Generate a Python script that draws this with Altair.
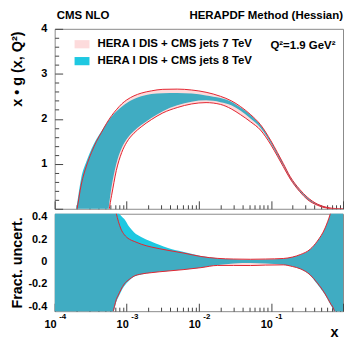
import altair as alt
import pandas as pd
import numpy as np

# ---------------- data ----------------
label7 = "HERA I DIS + CMS jets 7 TeV"
label8 = "HERA I DIS + CMS jets 8 TeV"
txt_left = "CMS NLO"
txt_right = "HERAPDF Method (Hessian)"
txt_q2 = "Q²=1.9 GeV²"

# top panel: x*g(x,Q2) bands, x given as log10(x)
logx_top = [-4.0, -3.80, -3.70, -3.63, -3.56, -3.49, -3.42, -3.35, -3.28, -3.21, -3.145,
            -3.07, -3.0, -2.90, -2.80, -2.66, -2.5, -2.3, -2.1, -1.9, -1.7, -1.55,
            -1.42, -1.28, -1.145, -1.0, -0.91, -0.83, -0.731, -0.6, -0.497, -0.35,
            -0.221, -0.1, 0.0]
g8_up = [-2.0, -0.8, 0.0, 0.7, 1.05, 1.33, 1.55, 1.73, 1.9, 2.05, 2.16,
         2.27, 2.35, 2.44, 2.5, 2.55, 2.57, 2.575, 2.56, 2.52, 2.46, 2.38,
         2.25, 2.08, 1.86, 1.5, 1.24, 1.0, 0.70, 0.42, 0.25, 0.1,
         0.03, 0.005, 0.0]
g8_lo = [-4.0, -2.8, -2.2, -1.8, -1.4, -1.05, -0.7, -0.4, -0.25, 0.5, 1.0,
         1.35, 1.55, 1.73, 1.86, 2.02, 2.17, 2.3, 2.38, 2.41, 2.37, 2.3,
         2.18, 2.0, 1.8, 1.45, 1.19, 0.96, 0.67, 0.39, 0.22, 0.08,
         0.015, -0.005, -0.01]
g7_up = [-2.0, -0.85, -0.1, 0.55, 0.95, 1.25, 1.5, 1.7, 1.9, 2.07, 2.2,
         2.33, 2.42, 2.51, 2.57, 2.62, 2.655, 2.66, 2.64, 2.59, 2.5, 2.4,
         2.27, 2.09, 1.87, 1.51, 1.25, 1.01, 0.71, 0.43, 0.26, 0.1,
         0.03, 0.005, 0.0]
g7_lo = [-4.0, -2.9, -2.3, -1.9, -1.5, -1.15, -0.8, -0.5, -0.3, 0.3, 0.85,
         1.25, 1.48, 1.68, 1.82, 1.98, 2.13, 2.25, 2.33, 2.36, 2.32, 2.22,
         2.09, 1.93, 1.75, 1.42, 1.17, 0.94, 0.66, 0.38, 0.21, 0.075,
         0.012, -0.008, -0.015]

# bottom panel: fractional uncertainties
logx_frac = [-4.0, -3.5, -3.25, -3.2, -3.17, -3.145, -3.117, -3.08, -3.034, -2.966, -2.897,
             -2.80, -2.662, -2.55, -2.428, -2.207, -1.972, -1.738, -1.517, -1.283, -1.076,
             -0.828, -0.70, -0.593, -0.455, -0.359, -0.248, -0.179, -0.12, -0.06, 0.0]
f8_up = [1.5, 1.2, 0.8, 0.65, 0.55, 0.49, 0.44, 0.41, 0.38, 0.31, 0.26,
         0.22, 0.18, 0.15, 0.12, 0.085, 0.05, 0.03, 0.02, 0.015, 0.018,
         0.025, 0.04, 0.06, 0.11, 0.18, 0.30, 0.42, 0.55, 0.8, 1.1]
f8_lo = [-1.5, -1.2, -0.65, -0.5, -0.42, -0.36, -0.32, -0.27, -0.22, -0.17, -0.135,
         -0.115, -0.1, -0.092, -0.085, -0.072, -0.055, -0.032, -0.018, -0.014, -0.018,
         -0.028, -0.045, -0.068, -0.125, -0.2, -0.3, -0.38, -0.46, -0.65, -1.0]
f7_up = [1.5, 1.2, 0.75, 0.6, 0.5, 0.43, 0.36, 0.29, 0.24, 0.2, 0.18,
         0.155, 0.13, 0.115, 0.1, 0.075, 0.045, 0.028, 0.022, 0.02, 0.022,
         0.027, 0.04, 0.062, 0.11, 0.18, 0.30, 0.42, 0.55, 0.8, 1.1]
f7_lo = [-1.5, -1.2, -0.62, -0.48, -0.4, -0.34, -0.3, -0.25, -0.2, -0.16, -0.13,
         -0.112, -0.1, -0.092, -0.085, -0.072, -0.055, -0.035, -0.035, -0.036, -0.032,
         -0.03, -0.045, -0.065, -0.12, -0.19, -0.29, -0.37, -0.44, -0.62, -1.0]

# x tick labels
decades = [1e-4, 1e-3, 1e-2, 1e-1]
dec_base = ["10", "10", "10", "10"]
dec_exp = ["-4", "-3", "-2", "-1"]

# ---------------- styling ----------------
W, H1, H2 = 290, 181, 98
CYAN = "#1ec8e1"
RED = "#e3242f"
HATCH = "rgba(240,30,40,0.16)"
FONT = "Liberation Sans"
TICK = "#444444"

top_df = pd.DataFrame({"x": np.power(10.0, logx_top), "u8": g8_up, "l8": g8_lo,
                       "u7": g7_up, "l7": g7_lo})
frac_df = pd.DataFrame({"x": np.power(10.0, logx_frac), "u8": f8_up, "l8": f8_lo,
                        "u7": f7_up, "l7": f7_lo})
dec_df = pd.DataFrame({"x": decades, "base": dec_base, "exp": dec_exp})

x_major = [1e-4, 1e-3, 1e-2, 1e-1, 1.0]
x_minor = [m * 10.0 ** e for e in range(-4, 0) for m in range(2, 10)]

xs = alt.Scale(type="log", domain=[1e-4, 1.0], nice=False)
ys_top = alt.Scale(domain=[0, 4], nice=False, zero=False)
ys_bot = alt.Scale(domain=[-0.444, 0.427], nice=False, zero=False)

color_scale = alt.Scale(domain=[label7, label8], range=[HATCH, CYAN])
legend = alt.Legend(orient="none", legendX=20, legendY=8, title=None,
                    symbolType="M-1,-0.55H1V0.55H-1Z", symbolSize=225,
                    symbolStrokeWidth=0, labelFont=FONT, labelFontSize=11.5,
                    labelFontWeight="bold", labelColor="black", labelOffset=8,
                    rowPadding=4, padding=0, labelLimit=300)


def ax_major(orient, values, title=None, labels=False, **kw):
    opts = dict(orient=orient, values=values, tickSize=8, offset=-8, domain=False,
                grid=False, labels=labels, title=title, tickColor=TICK,
                labelFont=FONT, labelFontSize=11, labelFontWeight="bold",
                labelColor="black", labelPadding=8,
                titleFont=FONT, titleFontSize=14.5, titleFontWeight="bold",
                titleColor="black")
    opts.update(kw)
    return alt.Axis(**opts)


def ax_minor(orient, values):
    return alt.Axis(orient=orient, values=values, tickSize=4, offset=-4, domain=False,
                    grid=False, labels=False, title=None, tickColor=TICK)


def panel(df, ys, ymaj, ymin, ylab_expr, ytitle, ytitle_y, with_legend, xtitle=None):
    lg = legend if with_legend else None
    xkw = {}
    if xtitle:
        xkw = dict(titleX=281, titleY=33, titleAlign="center", titleBaseline="alphabetic",
                   titleFontSize=14.5)
    cyan = alt.Chart(df).transform_calculate(s="'" + label8 + "'").mark_area(
        clip=True, interpolate="monotone", opacity=1).encode(
        x=alt.X("x:Q", scale=xs, axis=ax_major("bottom", x_major, title=xtitle, **xkw)),
        y=alt.Y("u8:Q", scale=ys,
                axis=ax_major("left", ymaj, title=ytitle, labels=True, labelExpr=ylab_expr,
                              titleAngle=270, titleAlign="center", titleBaseline="middle",
                              titleX=-45, titleY=ytitle_y)),
        y2="l8:Q",
        color=alt.Color("s:N", scale=color_scale, legend=lg),
    )
    hatch = alt.Chart(df).transform_calculate(s="'" + label7 + "'").mark_area(
        clip=True, interpolate="monotone", opacity=1).encode(
        x=alt.X("x:Q", scale=xs, axis=ax_minor("bottom", x_minor)),
        y=alt.Y("u7:Q", scale=ys, axis=ax_minor("left", ymin)),
        y2="l7:Q",
        color=alt.Color("s:N", scale=color_scale, legend=lg),
    )
    lines = alt.Chart(df).transform_fold(["u7", "l7"], as_=["edge", "val"]).mark_line(
        clip=True, interpolate="monotone", color=RED, strokeWidth=1).encode(
        x=alt.X("x:Q", scale=xs, axis=None),
        y=alt.Y("val:Q", scale=ys, axis=None),
        detail="edge:N",
    )
    return [cyan, hatch, lines]


top_layers = panel(top_df, ys_top, [0, 1, 2, 3, 4],
                   [round(0.2 * i, 1) for i in range(21) if i % 5 != 0],
                   "datum.value == 0 ? '' : '' + datum.value",
                   "x • g (x, Q²)", 40, True)


def txt(s, x, y, align, size=11.5):
    return alt.Chart(pd.DataFrame({"t": [s]})).mark_text(
        align=align, baseline="alphabetic", font=FONT, fontSize=size, fontWeight="bold",
        color="black").encode(text="t:N", x=alt.value(x), y=alt.value(y))


top = alt.layer(
    *top_layers,
    txt(txt_left, 2, -10, "left"),
    txt(txt_right, 290, -10, "right"),
    txt(txt_q2, 217, 20.5, "left"),
).resolve_axis(x="independent", y="independent").properties(width=W, height=H1)

bot_minor = [-0.35, -0.3, -0.25, -0.15, -0.1, -0.05, 0.05, 0.1, 0.15, 0.25, 0.3, 0.35]
bot_layers = panel(frac_df, ys_bot, [-0.4, -0.2, 0, 0.2, 0.4], bot_minor,
                   "'' + datum.value", "Fract. uncert.", 49, False, xtitle="x")

base_lab = alt.Chart(dec_df).mark_text(
    align="right", baseline="alphabetic", dx=2, font=FONT, fontSize=11,
    fontWeight="bold", color="black").encode(
    x=alt.X("x:Q", scale=xs, axis=None), y=alt.value(H2 + 17), text="base:N")
exp_lab = alt.Chart(dec_df).mark_text(
    align="left", baseline="alphabetic", dx=4.5, font=FONT, fontSize=8,
    fontWeight="bold", color="black").encode(
    x=alt.X("x:Q", scale=xs, axis=None), y=alt.value(H2 + 8), text="exp:N")

bottom = alt.layer(*bot_layers, base_lab, exp_lab).resolve_axis(
    x="independent", y="independent").properties(width=W, height=H2)

chart = alt.vconcat(top, bottom, spacing=0).resolve_scale(color="independent").properties(
    padding={"left": 9, "top": 8, "right": 0, "bottom": 0},
    background="white",
).configure_view(stroke="#8a8a8a", strokeWidth=1)

chart.save("out.html", embed_options={"renderer": "svg", "actions": False})
